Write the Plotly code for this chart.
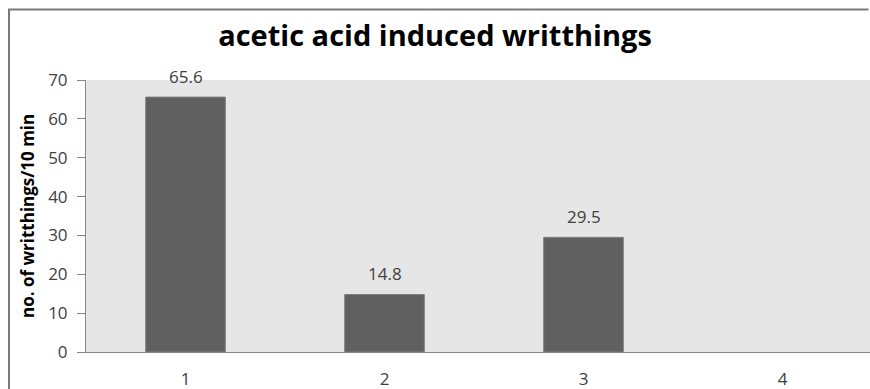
import plotly.graph_objects as go

# Writhing counts per group (group 4 has no recorded value)
groups = [1, 2, 3, 4]
writhings = [65.6, 14.8, 29.5, None]
y_ticks = [0, 10, 20, 30, 40, 50, 60, 70]

W, H = 870, 389
L, T, B, R = 86, 80, 37, 0
plot_w = W - L - R
plot_h = H - T - B
cat_px = 199  # pixels per category

bar_fill = "#606060"
bar_edge = "#7f7f7f"
axis_col = "#868686"
frame_col = "#7a7a7a"
text_col = "#404040"
font_family = "Open Sans, Liberation Sans, sans-serif"

fig = go.Figure()
fig.add_trace(go.Bar(
    x=groups,
    y=writhings,
    width=0.4,
    marker=dict(color=bar_fill, line=dict(color=bar_edge, width=1)),
    hoverinfo="x+y",
))

# value labels above each bar
for g, v in zip(groups, writhings):
    if v is None:
        continue
    fig.add_annotation(
        x=g, y=v, xref="x", yref="y",
        text=f"{v}", showarrow=False,
        yanchor="bottom", yshift=7,
        font=dict(family=font_family, size=17, color=text_col),
    )

# y-axis title
fig.add_annotation(
    x=(27 - L) / plot_w, y=0.5, xref="paper", yref="paper",
    text="<b>no. of writthings/10 min</b>", textangle=-90,
    showarrow=False, xanchor="center", yanchor="middle",
    font=dict(family=font_family, size=17, color="#000000"),
)

# outer chart frame: left and top edges only, ending at the page edges
fx = (9 - L) / plot_w
fy = 1 + (T - 9.5) / plot_h
fbottom = -B / plot_h
fig.add_shape(
    type="path", xref="paper", yref="paper",
    path=f"M {fx},{fbottom} L {fx},{fy} L 0.998,{fy}",
    line=dict(color=frame_col, width=2),
    layer="below",
)

fig.update_layout(
    width=W, height=H,
    margin=dict(l=L, r=R, t=T, b=B),
    paper_bgcolor="white",
    plot_bgcolor="#e6e6e6",
    showlegend=False,
    title=dict(
        text="<b>acetic acid induced writthings</b>",
        x=0.5, xanchor="center", xref="container",
        y=1 - 36 / H, yanchor="middle",
        font=dict(family=font_family, size=29, color="#000000"),
    ),
    xaxis=dict(
        range=[0.5, 0.5 + plot_w / cat_px],
        tickvals=groups, ticktext=[str(g) for g in groups],
        showgrid=False, zeroline=False,
        showline=True, linecolor=axis_col, linewidth=1,
        ticks="", ticklabelstandoff=12,
        tickfont=dict(family=font_family, size=17, color=text_col),
        fixedrange=True,
    ),
    yaxis=dict(
        range=[0, 70],
        tickvals=y_ticks,
        showgrid=False, zeroline=False,
        showline=True, linecolor=axis_col, linewidth=1,
        ticks="outside", ticklen=8, tickcolor=axis_col,
        ticklabelstandoff=6,
        tickfont=dict(family=font_family, size=17, color=text_col),
        fixedrange=True,
    ),
)

fig.write_html("out.html")
